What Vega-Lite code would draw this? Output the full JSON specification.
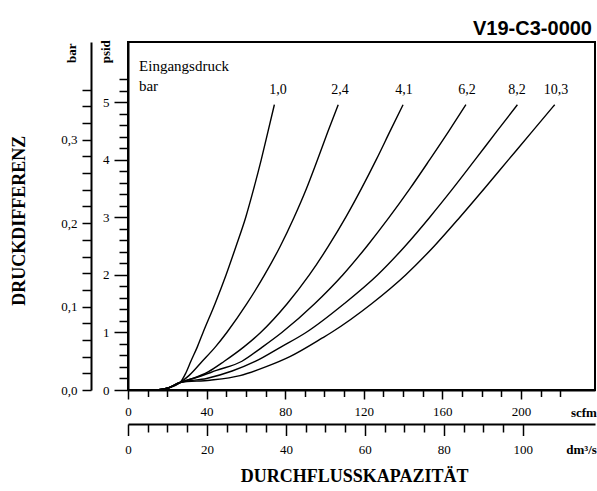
{
  "$schema": "https://vega.github.io/schema/vega-lite/v6.json",
  "autosize": {"type": "none"},
  "width": 467,
  "height": 348,
  "padding": {"left": 128, "top": 42, "right": 2, "bottom": 101},
  "background": "white",
  "title": {"text": "V19-C3-0000", "anchor": "end", "frame": "group", "font": "Liberation Sans", "fontSize": 20, "fontWeight": "bold", "color": "black", "offset": 1, "dx": -3},
  "datasets": {
    "curves": [
      {"curve": "1,0", "scfm": 14.6, "psid": 0}, {"curve": "1,0", "scfm": 20, "psid": 0.03}, {"curve": "1,0", "scfm": 26.5, "psid": 0.13}, {"curve": "1,0", "scfm": 29.5, "psid": 0.3}, {"curve": "1,0", "scfm": 32, "psid": 0.5}, {"curve": "1,0", "scfm": 35.3, "psid": 0.75}, {"curve": "1,0", "scfm": 38.2, "psid": 1}, {"curve": "1,0", "scfm": 44.3, "psid": 1.5}, {"curve": "1,0", "scfm": 49.9, "psid": 2}, {"curve": "1,0", "scfm": 55, "psid": 2.5}, {"curve": "1,0", "scfm": 59.9, "psid": 3}, {"curve": "1,0", "scfm": 64, "psid": 3.5}, {"curve": "1,0", "scfm": 67.8, "psid": 4}, {"curve": "1,0", "scfm": 71.3, "psid": 4.5}, {"curve": "1,0", "scfm": 74.5, "psid": 4.96},
      {"curve": "2,4", "scfm": 14.6, "psid": 0}, {"curve": "2,4", "scfm": 20, "psid": 0.03}, {"curve": "2,4", "scfm": 26.5, "psid": 0.13}, {"curve": "2,4", "scfm": 31, "psid": 0.25}, {"curve": "2,4", "scfm": 37.8, "psid": 0.5}, {"curve": "2,4", "scfm": 44.5, "psid": 0.75}, {"curve": "2,4", "scfm": 50.3, "psid": 1}, {"curve": "2,4", "scfm": 60.5, "psid": 1.5}, {"curve": "2,4", "scfm": 69.5, "psid": 2}, {"curve": "2,4", "scfm": 77.5, "psid": 2.5}, {"curve": "2,4", "scfm": 84.5, "psid": 3}, {"curve": "2,4", "scfm": 90.8, "psid": 3.5}, {"curve": "2,4", "scfm": 96.4, "psid": 4}, {"curve": "2,4", "scfm": 101.8, "psid": 4.5}, {"curve": "2,4", "scfm": 107, "psid": 4.96},
      {"curve": "4,1", "scfm": 14.6, "psid": 0}, {"curve": "4,1", "scfm": 20, "psid": 0.03}, {"curve": "4,1", "scfm": 26.5, "psid": 0.13}, {"curve": "4,1", "scfm": 33, "psid": 0.2}, {"curve": "4,1", "scfm": 41, "psid": 0.32}, {"curve": "4,1", "scfm": 49, "psid": 0.5}, {"curve": "4,1", "scfm": 59, "psid": 0.75}, {"curve": "4,1", "scfm": 67.5, "psid": 1}, {"curve": "4,1", "scfm": 81, "psid": 1.5}, {"curve": "4,1", "scfm": 92.3, "psid": 2}, {"curve": "4,1", "scfm": 102, "psid": 2.5}, {"curve": "4,1", "scfm": 110.8, "psid": 3}, {"curve": "4,1", "scfm": 118.8, "psid": 3.5}, {"curve": "4,1", "scfm": 126.3, "psid": 4}, {"curve": "4,1", "scfm": 133.4, "psid": 4.5}, {"curve": "4,1", "scfm": 140, "psid": 4.96},
      {"curve": "6,2", "scfm": 14.6, "psid": 0}, {"curve": "6,2", "scfm": 20, "psid": 0.03}, {"curve": "6,2", "scfm": 26.5, "psid": 0.13}, {"curve": "6,2", "scfm": 36, "psid": 0.23}, {"curve": "6,2", "scfm": 45, "psid": 0.34}, {"curve": "6,2", "scfm": 58, "psid": 0.5}, {"curve": "6,2", "scfm": 68.5, "psid": 0.75}, {"curve": "6,2", "scfm": 78.3, "psid": 1}, {"curve": "6,2", "scfm": 95, "psid": 1.5}, {"curve": "6,2", "scfm": 109.3, "psid": 2}, {"curve": "6,2", "scfm": 121.6, "psid": 2.5}, {"curve": "6,2", "scfm": 132.9, "psid": 3}, {"curve": "6,2", "scfm": 143.5, "psid": 3.5}, {"curve": "6,2", "scfm": 153.5, "psid": 4}, {"curve": "6,2", "scfm": 163.3, "psid": 4.5}, {"curve": "6,2", "scfm": 172, "psid": 4.96},
      {"curve": "8,2", "scfm": 14.6, "psid": 0}, {"curve": "8,2", "scfm": 20, "psid": 0.03}, {"curve": "8,2", "scfm": 26.5, "psid": 0.13}, {"curve": "8,2", "scfm": 40, "psid": 0.2}, {"curve": "8,2", "scfm": 53, "psid": 0.33}, {"curve": "8,2", "scfm": 65, "psid": 0.5}, {"curve": "8,2", "scfm": 78, "psid": 0.75}, {"curve": "8,2", "scfm": 90.6, "psid": 1}, {"curve": "8,2", "scfm": 110, "psid": 1.5}, {"curve": "8,2", "scfm": 127, "psid": 2}, {"curve": "8,2", "scfm": 141, "psid": 2.5}, {"curve": "8,2", "scfm": 153.5, "psid": 3}, {"curve": "8,2", "scfm": 165.3, "psid": 3.5}, {"curve": "8,2", "scfm": 176.6, "psid": 4}, {"curve": "8,2", "scfm": 187.8, "psid": 4.5}, {"curve": "8,2", "scfm": 198.2, "psid": 4.96},
      {"curve": "10,3", "scfm": 14.6, "psid": 0}, {"curve": "10,3", "scfm": 20, "psid": 0.03}, {"curve": "10,3", "scfm": 26.5, "psid": 0.13}, {"curve": "10,3", "scfm": 41.7, "psid": 0.17}, {"curve": "10,3", "scfm": 57, "psid": 0.25}, {"curve": "10,3", "scfm": 70.7, "psid": 0.41}, {"curve": "10,3", "scfm": 82.4, "psid": 0.58}, {"curve": "10,3", "scfm": 99.2, "psid": 0.91}, {"curve": "10,3", "scfm": 103.5, "psid": 1}, {"curve": "10,3", "scfm": 124, "psid": 1.5}, {"curve": "10,3", "scfm": 141.3, "psid": 2}, {"curve": "10,3", "scfm": 155.8, "psid": 2.5}, {"curve": "10,3", "scfm": 168.8, "psid": 3}, {"curve": "10,3", "scfm": 181.3, "psid": 3.5}, {"curve": "10,3", "scfm": 193.6, "psid": 4}, {"curve": "10,3", "scfm": 205.9, "psid": 4.5}, {"curve": "10,3", "scfm": 217.2, "psid": 4.96}
    ],
    "texts": [
      {"t": "1,0", "kind": "tag", "dm": 37.97, "bar": 0.3596},
      {"t": "2,4", "kind": "tag", "dm": 53.7, "bar": 0.3596},
      {"t": "4,1", "kind": "tag", "dm": 69.93, "bar": 0.3596},
      {"t": "6,2", "kind": "tag", "dm": 85.85, "bar": 0.3596},
      {"t": "8,2", "kind": "tag", "dm": 98.54, "bar": 0.3596},
      {"t": "10,3", "kind": "tag", "dm": 108.4, "bar": 0.3596},
      {"t": "Eingangsdruck", "kind": "note", "dm": 14.2, "bar": 0.3886},
      {"t": "bar", "kind": "note", "dm": 5.2, "bar": 0.3647}
    ],
    "titles": [
      {"t": "DRUCKDIFFERENZ", "dm": -27.36, "bar": 0.203},
      {"t": "DURCHFLUSSKAPAZITÄT", "dm": 57.39, "bar": -0.1042},
      {"t": "scfm", "dm": 115.5, "bar": -0.0275},
      {"t": "dm³/s", "dm": 114.9, "bar": -0.0719},
      {"t": "psid", "dm": -5.57, "bar": 0.4054},
      {"t": "bar", "dm": -14.06, "bar": 0.4036}
    ]
  },
  "config": {
    "view": {"stroke": "black", "strokeWidth": 2},
    "axis": {"grid": false, "labelFlush": false, "labelOverlap": false, "labelColor": "black", "labelFont": "Liberation Serif", "labelFontSize": 13}
  },
  "resolve": {"scale": {"x": "independent", "y": "independent"}, "axis": {"x": "independent", "y": "independent"}},
  "layer": [
    {
      "data": {"name": "curves"},
      "mark": {"type": "line", "color": "black", "strokeWidth": 1.4, "interpolate": "monotone"},
      "encoding": {
        "detail": {"field": "curve"},
        "x": {"field": "scfm", "type": "quantitative", "scale": {"domain": [0, 237.7], "nice": false, "zero": false},
          "axis": {"orient": "bottom", "values": [0, 10, 20, 30, 40, 50, 60, 70, 80, 90, 100, 110, 120, 130, 140, 150, 160, 170, 180, 190, 200, 210, 220],
            "labelExpr": "datum.value % 40 === 0 ? '' + datum.value : ''",
            "tickSize": {"condition": {"test": "datum.value % 40 === 0", "value": 9}, "value": 6.5},
            "tickColor": "black", "tickWidth": 1.5, "domainColor": "black", "domainWidth": 2,
            "labelPadding": 6, "title": null}},
        "y": {"field": "psid", "type": "quantitative", "scale": {"domain": [0, 6.05], "nice": false, "zero": false},
          "axis": {"orient": "left", "values": [0, 0.2, 0.4, 0.6, 0.8, 1, 1.2, 1.4, 1.6, 1.8, 2, 2.2, 2.4, 2.6, 2.8, 3, 3.2, 3.4, 3.6, 3.8, 4, 4.2, 4.4, 4.6, 4.8, 5, 5.2, 5.4],
            "labelExpr": "abs(datum.value - round(datum.value)) < 0.001 ? '' + round(datum.value) : ''",
            "tickSize": {"condition": {"test": "abs(datum.value - round(datum.value)) < 0.001", "value": 14}, "value": 9},
            "tickColor": "black", "tickWidth": 1.5, "domainColor": "black", "domainWidth": 2,
            "labelPadding": 5, "title": null}}
      }
    },
    {
      "data": {"name": "texts"},
      "mark": {"type": "text", "font": "Liberation Serif", "color": "black", "align": "center", "baseline": "middle"},
      "encoding": {
        "text": {"field": "t"},
        "size": {"condition": {"test": "datum.kind === 'note'", "value": 15}, "value": 14},
        "x": {"field": "dm", "type": "quantitative", "scale": {"domain": [0, 118.3], "nice": false, "zero": false},
          "axis": {"orient": "bottom", "offset": 34, "values": [0, 5, 10, 15, 20, 25, 30, 35, 40, 45, 50, 55, 60, 65, 70, 75, 80, 85, 90, 95, 100],
            "labelExpr": "datum.value % 20 === 0 ? '' + datum.value : ''",
            "tickSize": {"condition": {"test": "datum.value % 20 === 0", "value": 11.5}, "value": 8},
            "tickColor": "black", "tickWidth": 1.5, "domainColor": "black", "domainWidth": 2,
            "labelPadding": 8, "title": null}},
        "y": {"field": "bar", "type": "quantitative", "scale": {"domain": [0, 0.41712], "nice": false, "zero": false},
          "axis": {"orient": "left", "offset": 37, "values": [0, 0.02, 0.04, 0.06, 0.08, 0.1, 0.12, 0.14, 0.16, 0.18, 0.2, 0.22, 0.24, 0.26, 0.28, 0.3, 0.32, 0.34, 0.36],
            "labelExpr": "abs(datum.value * 10 - round(datum.value * 10)) < 0.001 ? replace(format(datum.value, '.1f'), '.', ',') : ''",
            "tickSize": 9, "tickColor": "black", "tickWidth": 1.5, "domainColor": "black", "domainWidth": 2,
            "labelPadding": 5, "title": null}}
      }
    },
    {
      "data": {"name": "titles"},
      "mark": {"type": "text", "font": "Liberation Serif", "fontWeight": "bold", "color": "black", "align": "center", "baseline": "middle"},
      "encoding": {
        "text": {"field": "t"},
        "size": {"condition": {"test": "datum.t === 'DRUCKDIFFERENZ' || datum.t === 'DURCHFLUSSKAPAZITÄT'", "value": 18}, "value": 13},
        "angle": {"condition": {"test": "datum.t === 'DRUCKDIFFERENZ' || datum.t === 'psid' || datum.t === 'bar'", "value": 270}, "value": 0},
        "x": {"field": "dm", "type": "quantitative", "scale": {"domain": [0, 118.3], "nice": false, "zero": false}, "axis": null},
        "y": {"field": "bar", "type": "quantitative", "scale": {"domain": [0, 0.41712], "nice": false, "zero": false}, "axis": null}
      }
    }
  ]
}
